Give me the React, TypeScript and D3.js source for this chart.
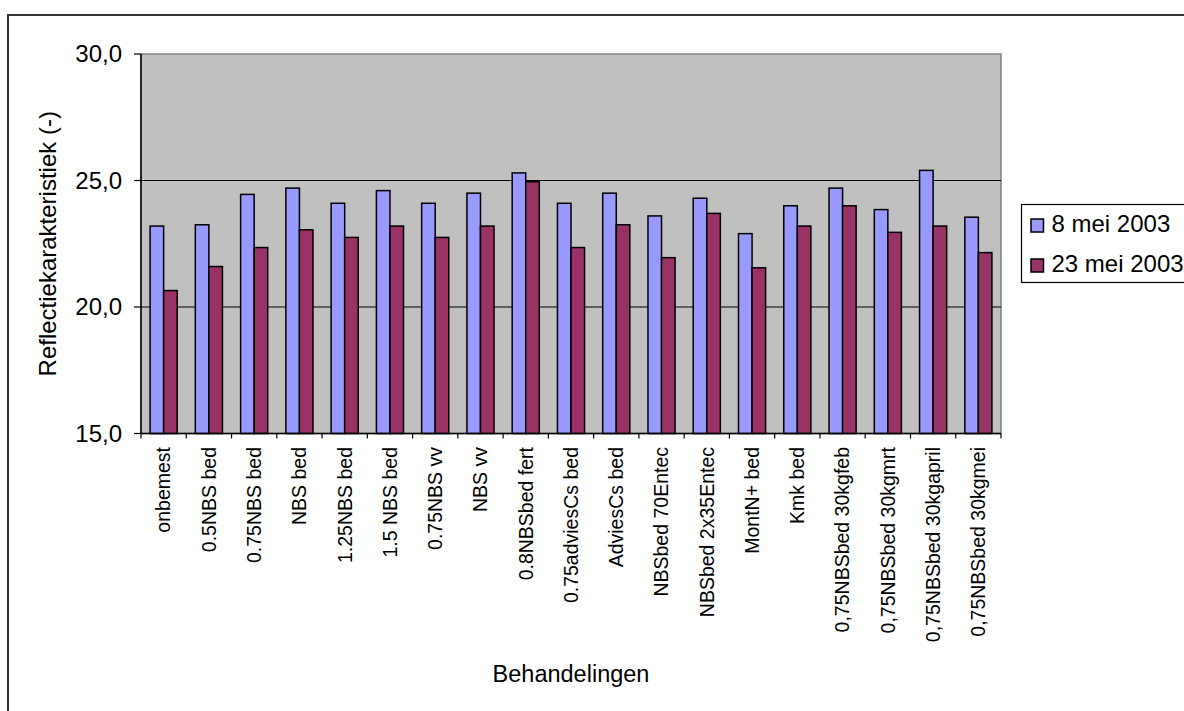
import React from 'react';
import * as d3 from 'd3';

const categories = [
  'onbemest',
  '0.5NBS bed',
  '0.75NBS bed',
  'NBS bed',
  '1.25NBS bed',
  '1.5 NBS bed',
  '0.75NBS vv',
  'NBS vv',
  '0.8NBSbed fert',
  '0.75adviesCs bed',
  'AdviesCs bed',
  'NBSbed 70Entec',
  'NBSbed 2x35Entec',
  'MontN+ bed',
  'Kmk bed',
  '0,75NBSbed 30kgfeb',
  '0,75NBSbed 30kgmrt',
  '0,75NBSbed 30kgapril',
  '0,75NBSbed 30kgmei'
];

const mei8 = [
  23.2, 23.25, 24.45, 24.7, 24.1, 24.6, 24.1, 24.5, 25.3, 24.1,
  24.5, 23.6, 24.3, 22.9, 24.0, 24.7, 23.85, 25.4, 23.55
];

const mei23 = [
  20.65, 21.6, 22.35, 23.05, 22.75, 23.2, 22.75, 23.2, 24.95, 22.35,
  23.25, 21.95, 23.7, 21.55, 23.2, 24.0, 22.95, 23.2, 22.15
];

const seriesNames = ['8 mei 2003', '23 mei 2003'];
const seriesColors = ['#9999FF', '#993366'];
const yTicks = [15, 20, 25, 30];

const WIDTH = 1184;
const HEIGHT = 711;
const FONT = "Arial, 'Liberation Sans', sans-serif";

const plot = { left: 141, right: 1001, top: 54, bottom: 433.5 };

export default function App() {
  const x0 = d3
    .scaleBand<string>()
    .domain(categories)
    .range([plot.left, plot.right])
    .paddingInner(0)
    .paddingOuter(0);

  const x1 = d3
    .scaleBand<string>()
    .domain(seriesNames)
    .range([0, x0.bandwidth()])
    .paddingInner(0)
    .paddingOuter(0.67);

  const y = d3.scaleLinear().domain([15, 30]).range([plot.bottom, plot.top]);

  const fmt = (v: number) => d3.format('.1f')(v).replace('.', ',');

  const series = [mei8, mei23];

  return (
    <div style={{ position: 'fixed', left: 0, top: 0 }}>
      <svg width={WIDTH} height={HEIGHT} style={{ display: 'block', background: '#fff' }}>
        {/* buitenkader */}
        <rect x={8} y={15} width={1200} height={720} fill="#fff" stroke="#333" strokeWidth={2} />

        {/* plotvlak */}
        <rect
          x={plot.left}
          y={plot.top}
          width={plot.right - plot.left}
          height={plot.bottom - plot.top}
          fill="#C0C0C0"
          stroke="#808080"
          strokeWidth={1.5}
        />

        {/* rasterlijnen */}
        {yTicks
          .filter(t => t !== 15 && t !== 30)
          .map(t => (
            <line
              key={t}
              x1={plot.left}
              x2={plot.right}
              y1={y(t)}
              y2={y(t)}
              stroke="#000"
              strokeWidth={1}
            />
          ))}

        {/* staven */}
        {categories.map((c, i) => (
          <g key={c} transform={`translate(${x0(c)},0)`}>
            {seriesNames.map((s, j) => (
              <rect
                key={s}
                x={x1(s)}
                y={y(series[j][i])}
                width={x1.bandwidth()}
                height={plot.bottom - y(series[j][i])}
                fill={seriesColors[j]}
                stroke="#000"
                strokeWidth={1.5}
              />
            ))}
          </g>
        ))}

        {/* y-as */}
        <line x1={plot.left} x2={plot.left} y1={plot.top} y2={plot.bottom} stroke="#000" strokeWidth={1.5} />
        {yTicks.map(t => (
          <g key={t} transform={`translate(0,${y(t)})`}>
            <line x1={plot.left - 7} x2={plot.left} stroke="#000" strokeWidth={1.2} />
            <text
              x={plot.left - 19}
              dy="0.35em"
              textAnchor="end"
              fontFamily={FONT}
              fontSize={24}
              fill="#000"
            >
              {fmt(t)}
            </text>
          </g>
        ))}
        <text
          transform={`translate(48,${(plot.top + plot.bottom) / 2}) rotate(-90)`}
          textAnchor="middle"
          dy="0.35em"
          fontFamily={FONT}
          fontSize={24}
          fill="#000"
        >
          Reflectiekarakteristiek (-)
        </text>

        {/* x-as */}
        <line x1={plot.left} x2={plot.right} y1={plot.bottom} y2={plot.bottom} stroke="#000" strokeWidth={1.5} />
        {categories.map(c => (
          <line
            key={'t' + c}
            x1={x0(c)}
            x2={x0(c)}
            y1={plot.bottom}
            y2={plot.bottom + 5}
            stroke="#000"
            strokeWidth={1.2}
          />
        ))}
        <line x1={plot.right} x2={plot.right} y1={plot.bottom} y2={plot.bottom + 5} stroke="#000" strokeWidth={1.2} />
        {categories.map(c => (
          <text
            key={'l' + c}
            transform={`translate(${(x0(c) || 0) + x0.bandwidth() / 2},447) rotate(-90)`}
            textAnchor="end"
            dy="0.35em"
            fontFamily={FONT}
            fontSize={19.5}
            fill="#000"
          >
            {c}
          </text>
        ))}
        <text
          x={(plot.left + plot.right) / 2}
          y={682}
          textAnchor="middle"
          fontFamily={FONT}
          fontSize={23.5}
          fill="#000"
        >
          Behandelingen
        </text>

        {/* legenda */}
        <rect x={1021.5} y={204.5} width={200} height={78} fill="#fff" stroke="#000" strokeWidth={1.2} />
        {seriesNames.map((s, j) => (
          <g key={s} transform={`translate(0,${219 + j * 40})`}>
            <rect x={1031} y={0} width={12.5} height={13} fill={seriesColors[j]} stroke="#000" strokeWidth={1.5} />
            <text x={1051.5} y={13} fontFamily={FONT} fontSize={24} fill="#000">
              {s}
            </text>
          </g>
        ))}
      </svg>
    </div>
  );
}
